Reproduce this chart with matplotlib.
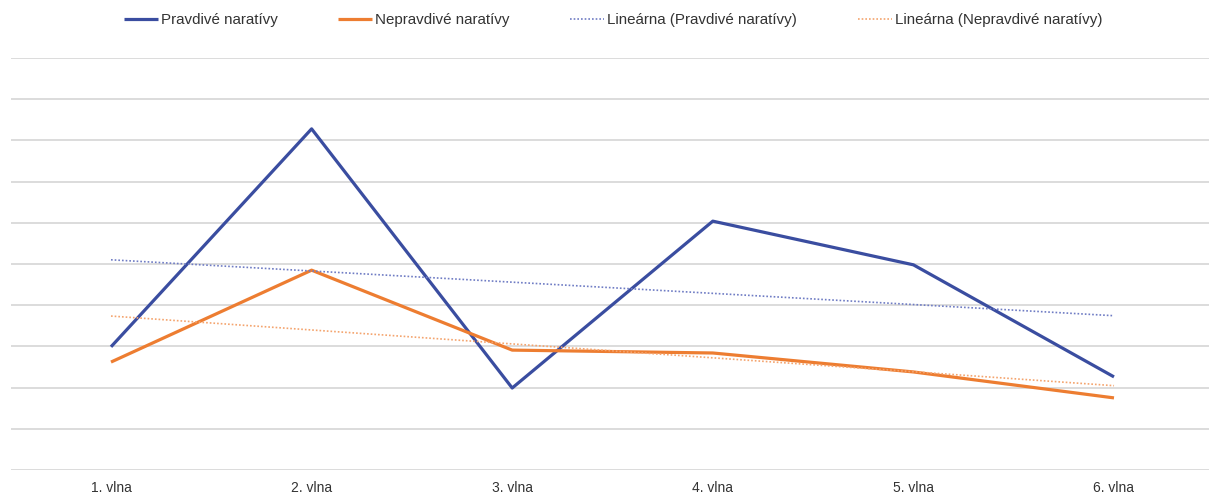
import numpy as np
import matplotlib.pyplot as plt

plt.rcParams['font.family'] = ['Liberation Sans', 'DejaVu Sans']

waves = ['1. vlna', '2. vlna', '3. vlna', '4. vlna', '5. vlna', '6. vlna']
true_narr = [2.99, 8.28, 1.99, 6.04, 4.98, 2.26]
false_narr = [2.62, 4.85, 2.91, 2.84, 2.38, 1.75]

blue = '#3A4DA0'
orange = '#ED7D31'

x = np.arange(len(waves))

# linear trend lines (like Excel "Lineárna")
tb = np.polyval(np.polyfit(x, true_narr, 1), x)
to = np.polyval(np.polyfit(x, false_narr, 1), x)

fig = plt.figure(figsize=(12.09, 4.95), dpi=100)
ax = fig.add_axes([10.7 / 1209, 25 / 495, 1203.6 / 1209, 412 / 495])

ax.plot(x, true_narr, color=blue, lw=2.3, label='Pravdivé naratívy', solid_capstyle='butt')
ax.plot(x, false_narr, color=orange, lw=2.3, label='Nepravdivé naratívy', solid_capstyle='butt')
ax.plot(x, tb, color='#6F7CC4', lw=1.2, ls=(0, (1, 1.2)), label='Lineárna (Pravdivé naratívy)')
ax.plot(x, to, color='#F4A46E', lw=1.2, ls=(0, (1, 1.2)), label='Lineárna (Nepravdivé naratívy)')

ax.set_xlim(-0.5, 5.5)
ax.set_ylim(0, 10)
ax.set_yticks(np.arange(0, 11, 1))
ax.set_xticks(x)
ax.set_xticklabels(waves, fontsize=10, color='#333333')
ax.tick_params(axis='x', length=0, pad=8)
ax.tick_params(axis='y', length=0, labelleft=False)
ax.grid(axis='y', color='#D9D9D9', lw=1.3)
ax.set_axisbelow(True)
for s in ax.spines.values():
    s.set_visible(False)

fig.legend(loc='center', bbox_to_anchor=(613 / 1209, 1 - 20 / 495), ncol=4, frameon=False,
           fontsize=10.9, handlelength=2.25, handletextpad=0.2, columnspacing=4.0,
           labelcolor='#333333')

fig.savefig('out.png', dpi=100)
